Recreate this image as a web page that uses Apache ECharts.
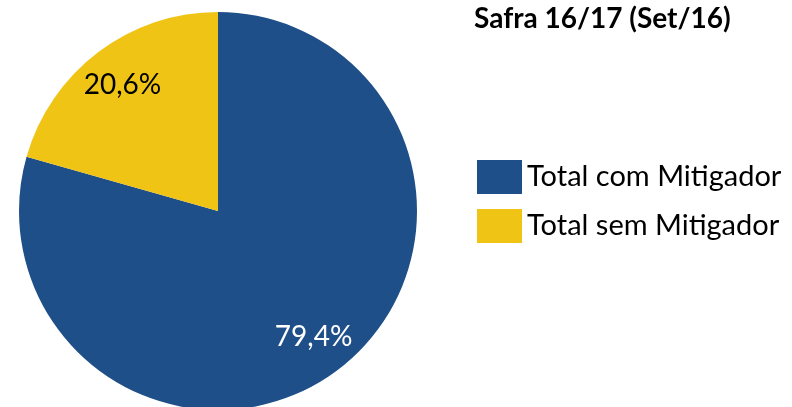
<!DOCTYPE html>
<html>
<head>
<meta charset="utf-8">
<script src="https://cdn.jsdelivr.net/npm/echarts@6/dist/echarts.min.js"></script>
<style>
  html, body { margin: 0; padding: 0; background: #fff; }
  #pie { width: 792px; height: 407px; }
</style>
</head>
<body>
<div id="pie"></div>
<script>
// dados do gráfico
var categorias = ['Total com Mitigador', 'Total sem Mitigador'];
var valores = [79.4, 20.6];
var cores = ['#1F4F88', '#F0C415'];
var corRotulo = ['#ffffff', '#000000'];
var titulo = 'Safra 16/17 (Set/16)';

var fonte = 'Lato';

var myChart = echarts.init(document.getElementById('pie'));

var dadosPie = categorias.map(function (c, i) {
  return { name: c, value: valores[i], itemStyle: { color: cores[i] } };
});
var dadosRotulo = categorias.map(function (c, i) {
  return { name: c, value: valores[i], label: { color: corRotulo[i] } };
});

var option = {
  animation: false,
  title: {
    text: titulo,
    left: 469,
    top: 0,
    textStyle: { fontFamily: fonte, fontWeight: 'bold', fontSize: 28, color: '#000' }
  },
  legend: {
    data: categorias,
    orient: 'vertical',
    left: 472,
    top: 155,
    itemWidth: 45,
    itemHeight: 34,
    itemGap: 15,
    icon: 'rect',
    textStyle: { fontFamily: fonte, fontSize: 29, color: '#000' }
  },
  series: [
    {
      type: 'pie',
      center: [218, 211],
      radius: 199,
      startAngle: 90,
      clockwise: true,
      label: { show: false },
      labelLine: { show: false },
      emphasis: { disabled: true },
      data: dadosPie
    },
    {
      // série só para os rótulos (mais perto da borda)
      type: 'pie',
      center: [218, 211],
      radius: [112, 199],
      startAngle: 90,
      clockwise: true,
      silent: true,
      legendHoverLink: false,
      itemStyle: { color: 'rgba(0,0,0,0)' },
      label: {
        show: true,
        position: 'inside',
        fontFamily: fonte,
        fontSize: 28,
        formatter: function (p) { return p.value.toFixed(1).replace('.', ',') + '%'; }
      },
      labelLine: { show: false },
      emphasis: { disabled: true },
      data: dadosRotulo
    }
  ]
};

myChart.setOption(option);
</script>
</body>
</html>
